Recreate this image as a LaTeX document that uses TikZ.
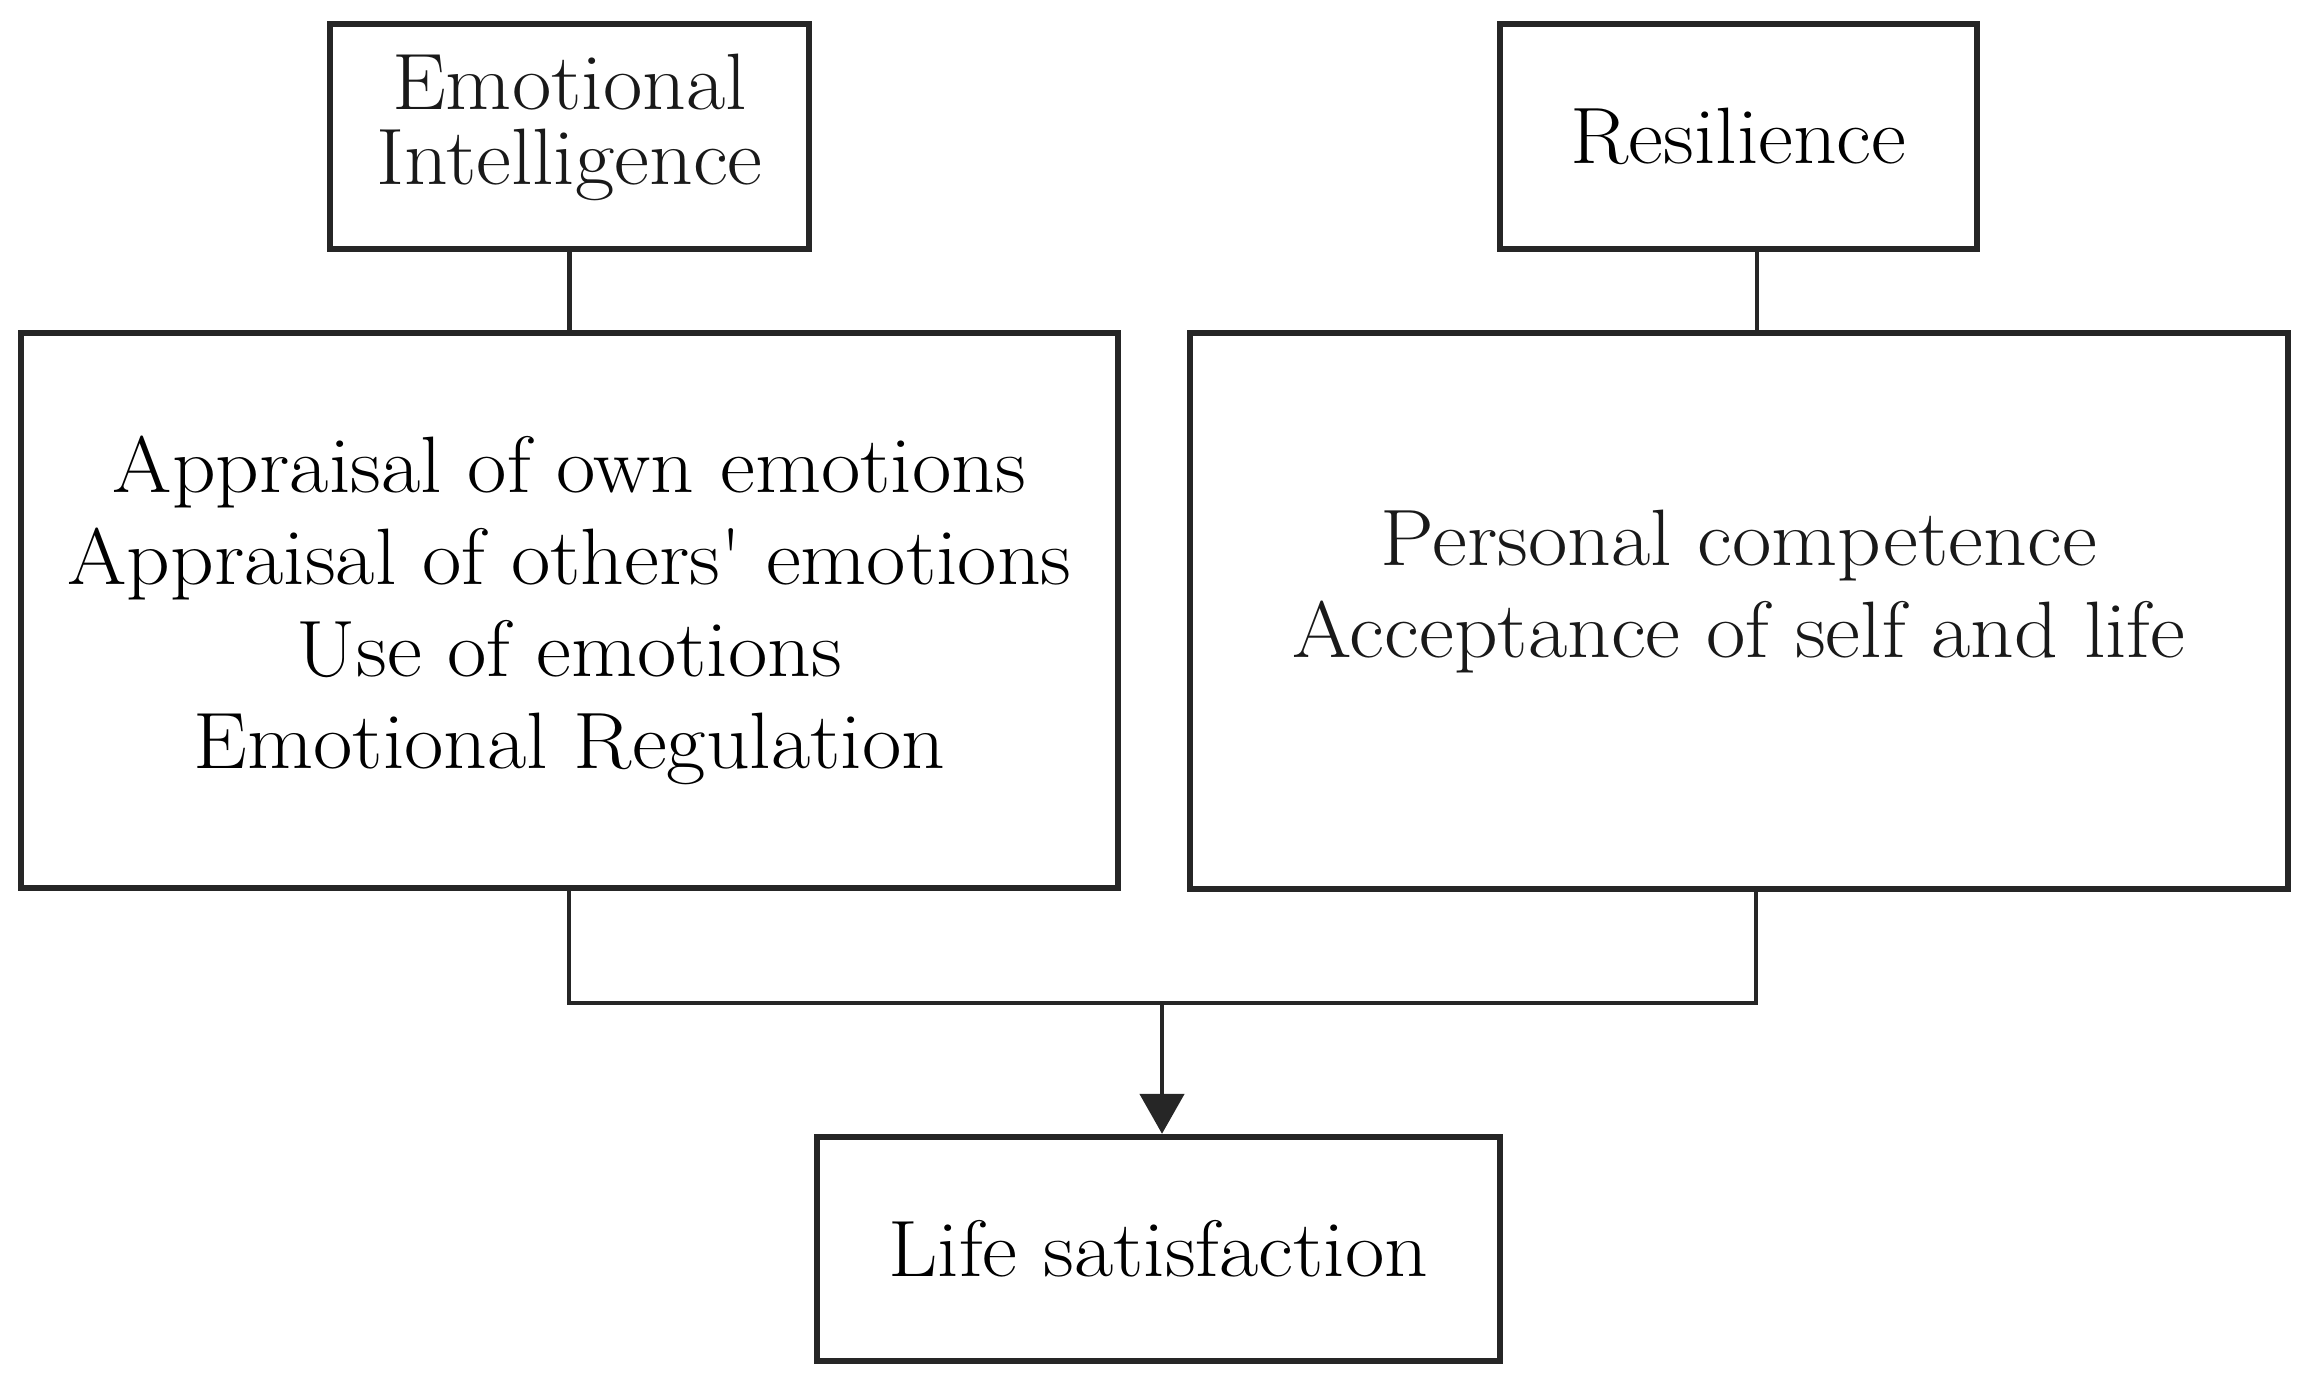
\documentclass[tikz,border=0pt]{standalone}
\usepackage{fontspec}
\setmainfont{Latin Modern Roman}[FakeStretch=1.07]
\usetikzlibrary{arrows.meta}
\begin{document}
\begin{tikzpicture}[x=0.5pt,y=-0.5pt,
  box/.style={draw=black!85,line width=3.2pt,inner sep=0pt,align=center,fill=white},
  txt/.style={inner sep=0pt,align=center,text=black!90},
  conn/.style={draw=black!85,line width=2.4pt},
  small/.style={font=\fontsize{40}{37.5}\selectfont},
  big/.style={font=\fontsize{40}{46}\selectfont}]
\useasboundingbox (0,0) rectangle (2312,1397);
\node[box,minimum width=479*0.5pt,minimum height=225*0.5pt] (ei) at (569.5,136.5) {};
\node[txt,small] (eit) at (569.5,127) {Emotional\\Intelligence};
\node[box,small,minimum width=477*0.5pt,minimum height=225*0.5pt] (res) at (1738.5,136.5) {Resilience};
\node[box,big,minimum width=1097*0.5pt,minimum height=555*0.5pt] (left) at (569.5,610.5)
  {Appraisal of own emotions\\Appraisal of others\textquotesingle\ emotions\\Use of emotions\\Emotional Regulation};
\node[box,minimum width=1098*0.5pt,minimum height=556*0.5pt] (right) at (1739,611) {};
\node[txt,big] (rightt) at (1739,592) {Personal competence\\Acceptance of self and life};
\node[box,big,minimum width=683*0.5pt,minimum height=224*0.5pt] (ls) at (1158.5,1249) {Life satisfaction};
\coordinate (rc) at (1757,280);
\coordinate (j1) at (569,1003);
\coordinate (j2) at (1756,1003);
\coordinate (jm) at (1162,1003);
\draw[conn] (ei.south) -- (left.north);
\draw[conn] (res.south -| rc) -- (right.north -| rc);
\draw[conn] (left.south -| j1) -- (j1) -- (j2) -- (right.south -| j2);
\draw[conn,-{Triangle[length=20pt,width=22pt]}] (jm) -- (ls.north -| jm);
\end{tikzpicture}
\end{document}
